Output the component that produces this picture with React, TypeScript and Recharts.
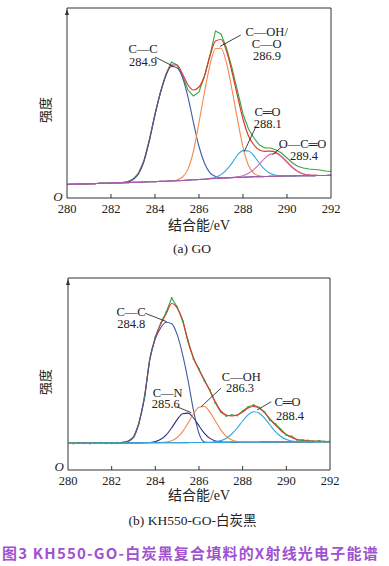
import { LineChart, Line, XAxis, YAxis, ReferenceLine } from 'recharts'

// binding energy grid (eV)
const energy = [
  280, 280.25, 280.5, 280.75, 281, 281.25, 281.5, 281.75, 282, 282.25, 282.5, 282.75,
  283, 283.25, 283.5, 283.75, 284, 284.25, 284.5, 284.75, 285, 285.25, 285.5, 285.75,
  286, 286.25, 286.5, 286.75, 287, 287.25, 287.5, 287.75, 288, 288.25, 288.5, 288.75,
  289, 289.25, 289.5, 289.75, 290, 290.25, 290.5, 290.75, 291, 291.25, 291.5, 291.75, 292,
]
const xTicks = [280, 282, 284, 286, 288, 290, 292]

// (a) GO
const goBackground = [
  13.5, 13.7, 13.9, 14.0, 14.2, 14.4, 14.6, 14.7, 14.9, 15.1, 15.3, 15.4,
  15.6, 15.8, 16.0, 16.2, 16.4, 16.6, 16.8, 17.0, 17.2, 17.5, 17.9, 18.2,
  18.5, 18.8, 19.2, 19.5, 19.8, 20.1, 20.3, 20.6, 20.8, 21.0, 21.2, 21.3,
  21.5, 21.6, 21.8, 21.9, 22.0, 22.1, 22.2, 22.2, 22.3, 22.4, 22.5, 22.5, 22.6,
]
const goRaw = [
  13.6, 13.6, 14.0, 13.9, 14.3, 14.3, 14.7, 14.6, 15.0, 15.0, 15.4, 16.2,
  19.0, 25.0, 37.5, 59, 84, 106, 124, 136, 133, 122, 108, 102,
  106, 122, 143, 167, 164, 150, 130, 107, 84, 69, 60, 53,
  50, 50, 48, 45, 40, 35, 31.5, 30, 29, 28.5, 28, 27, 26.5,
]
const goFit = [
  13.5, 13.7, 13.9, 14.0, 14.2, 14.4, 14.6, 14.7, 14.9, 15.1, 15.3, 15.9,
  18.6, 24.3, 37.0, 58.2, 83.4, 105.6, 122.8, 133, 133, 124, 113, 108,
  111, 122, 142, 157, 158.5, 147, 126, 102, 79, 62, 53, 48,
  46.7, 46.9, 45.5, 41.6, 36, 30.5, 26.5, 24, 23, 22.6, 22.5, 22.5, 22.6,
]
// fitted peaks, height above the background
const goCC = [
  0, 0, 0, 0, 0, 0, 0, 0, 0, 0, 0, 0.5,
  3, 8.5, 21, 42, 67, 89, 106, 114.5, 113, 103, 83, 57,
  33, 16, 6, 2, 0.5, 0, 0, 0, 0, 0, 0, 0,
  0, 0, 0, 0, 0, 0, 0, 0, 0, 0, 0, 0, 0,
]
const goCOH = [
  0, 0, 0, 0, 0, 0, 0, 0, 0, 0, 0, 0,
  0, 0, 0, 0, 0, 0, 0, 0, 0.8, 3.5, 11, 29,
  57, 87, 114, 130, 130, 115, 88, 58, 30, 11.5, 3.5, 0.8,
  0, 0, 0, 0, 0, 0, 0, 0, 0, 0, 0, 0, 0,
]
const goCO = [
  0, 0, 0, 0, 0, 0, 0, 0, 0, 0, 0, 0,
  0, 0, 0, 0, 0, 0, 0, 0, 0, 0, 0, 0,
  0, 0, 0.4, 1.3, 3.6, 8.1, 14.6, 22.4, 26.6, 26, 20.9, 13.2,
  6.8, 3.0, 1.0, 0.3, 0, 0, 0, 0, 0, 0, 0, 0, 0,
]
const goOCO = [
  0, 0, 0, 0, 0, 0, 0, 0, 0, 0, 0, 0,
  0, 0, 0, 0, 0, 0, 0, 0, 0, 0, 0, 0,
  0, 0, 0, 0, 0, 0, 0.2, 0.5, 1.5, 3.7, 7.5, 12.8,
  18.4, 22.3, 22.7, 19.4, 14, 8.4, 4.3, 1.8, 0.7, 0.2, 0, 0, 0,
]

// (b) KH550-GO-白炭黑
const khBackground = [
  26.7, 26.7, 26.8, 26.8, 26.8, 26.9, 26.9, 26.9, 27.0, 27.0, 27.0, 27.1,
  27.1, 27.1, 27.2, 27.2, 27.2, 27.3, 27.3, 27.3, 27.4, 27.4, 27.4, 27.5,
  27.5, 27.5, 27.5, 27.6, 27.6, 27.6, 27.7, 27.7, 27.7, 27.8, 27.8, 27.8,
  27.9, 27.9, 27.9, 28.0, 28.0, 28.0, 28.1, 28.1, 28.1, 28.2, 28.2, 28.2, 28.3,
]
const khRaw = [
  26.9, 26.6, 27.1, 26.7, 26.6, 27.0, 27.2, 26.8, 26.8, 27.2, 27.6, 28.3,
  32.8, 46.5, 72.5, 111, 133, 147, 158, 172, 163, 149, 129.5, 111,
  101, 89, 80, 67, 58, 54, 55, 54.5, 59, 63, 65, 62.5,
  58, 50, 46, 40.5, 35, 33.5, 30, 30, 29.5, 28.6, 29.1, 28.5, 28.6,
]
const khFit = [
  26.7, 26.7, 26.8, 26.8, 26.8, 26.9, 26.9, 26.9, 27.0, 27.0, 27.4, 28.5,
  32.5, 47, 72, 111.5, 132.5, 146, 156.5, 166.5, 162, 150, 128, 112,
  100, 90, 79, 68, 59, 55, 54, 55, 58, 62, 63.5, 62,
  57.5, 51, 45, 39.5, 35.5, 32.5, 30.5, 29.5, 29, 28.8, 28.6, 28.5, 28.3,
]
const khCC = [
  0, 0, 0, 0, 0, 0, 0, 0, 0, 0, 0.5, 2,
  6, 20, 45, 84, 104, 115, 120.5, 119, 108, 88, 62, 32,
  9, 0.5, 0, 0, 0, 0, 0, 0, 0, 0, 0, 0,
  0, 0, 0, 0, 0, 0, 0, 0, 0, 0, 0, 0, 0,
]
const khCN = [
  0, 0, 0, 0, 0, 0, 0, 0, 0, 0, 0, 0,
  0, 0, 0, 0.3, 1.2, 3.4, 7.9, 14.9, 23, 28.9, 29.5, 24.5,
  16.6, 9.1, 4.1, 1.5, 0.4, 0, 0, 0, 0, 0, 0, 0,
  0, 0, 0, 0, 0, 0, 0, 0, 0, 0, 0, 0, 0,
]
const khCOH = [
  0, 0, 0, 0, 0, 0, 0, 0, 0, 0, 0, 0,
  0, 0, 0, 0, 0, 0.2, 0.6, 2, 5.1, 11, 19.5, 28.8,
  35.3, 36, 30.4, 21.4, 12.5, 6, 2.4, 0.8, 0.2, 0, 0, 0,
  0, 0, 0, 0, 0, 0, 0, 0, 0, 0, 0, 0, 0,
]
const khCO = [
  0, 0, 0, 0, 0, 0, 0, 0, 0, 0, 0, 0,
  0, 0, 0, 0, 0, 0, 0, 0, 0, 0, 0, 0,
  0, 0, 0.2, 0.7, 1.8, 4.1, 8.3, 14.3, 21.3, 27.4, 30.4, 29.1,
  24, 17.1, 10.5, 5.5, 2.5, 1.0, 0.3, 0, 0, 0, 0, 0, 0,
]

const GREEN = '#34a547'
const RED = '#dc3a2c'
const FRAME = '#333'
const serif = "'Liberation Serif', 'Noto Sans CJK SC', serif"

type Peak = { key: string; color: string; values: number[] }
type Pointer = [number, number, number, number]

function XpsPanel({ background, raw, fit, peaks, baseColor, pointers, box, rawDots }: {
  background: number[]
  raw: number[]
  fit: number[]
  peaks: Peak[]
  baseColor: string
  pointers: Pointer[]
  box: { left: number; top: number; width: number; height: number }
  rawDots?: boolean
}) {
  const W = 389
  const H = 240
  const axisH = 30
  const axisY = box.top + box.height
  const rows = energy.map((e, i) => {
    const row: Record<string, number> = { e, raw: raw[i], fit: fit[i], bg: background[i] }
    peaks.forEach(p => { row[p.key] = background[i] + p.values[i] })
    return row
  })

  const renderTick = (props: any) => {
    const { x, payload } = props
    const inner = payload.value > 280 && payload.value < 292
    return (
      <g>
        {inner && <line x1={x} x2={x} y1={axisY} y2={axisY - 4} stroke={FRAME} strokeWidth={1} />}
        <text x={x} y={axisY + 15} textAnchor="middle" fontFamily={serif} fontSize={12.5} fill="#222">
          {payload.value}
        </text>
      </g>
    )
  }

  return (
    <LineChart
      width={W}
      height={H}
      data={rows}
      margin={{ top: box.top, right: W - box.left - box.width, bottom: H - axisY - axisH, left: box.left }}
    >
      <XAxis dataKey="e" type="number" domain={[280, 292]} ticks={xTicks} tick={renderTick}
        tickLine={false} axisLine={{ stroke: FRAME, strokeWidth: 1 }} height={axisH} allowDataOverflow />
      <YAxis type="number" domain={[0, box.height]} hide allowDataOverflow />
      <Line dataKey="raw" type="linear" stroke={GREEN} strokeWidth={1.1} isAnimationActive={false}
        dot={rawDots ? { r: 1, fill: GREEN, stroke: 'none' } : false} />
      <Line dataKey="fit" type="monotone" stroke={RED} strokeWidth={1.2} dot={false} isAnimationActive={false} />
      {peaks.map(p => (
        <Line key={p.key} dataKey={p.key} type="monotone" stroke={p.color} strokeWidth={1.1}
          dot={false} isAnimationActive={false} />
      ))}
      <Line dataKey="bg" type="monotone" stroke={baseColor} strokeWidth={1.1} dot={false} isAnimationActive={false} />
      {/* frame */}
      <ReferenceLine x={280} stroke={FRAME} strokeWidth={1} ifOverflow="visible" />
      <ReferenceLine x={292} stroke={FRAME} strokeWidth={1} ifOverflow="visible" />
      <ReferenceLine y={box.height} stroke={FRAME} strokeWidth={1} ifOverflow="visible" />
      {pointers.map((s, i) => (
        <ReferenceLine key={i} segment={[{ x: s[0], y: s[1] }, { x: s[2], y: s[3] }]}
          stroke="#111" strokeWidth={0.8} ifOverflow="visible" />
      ))}
    </LineChart>
  )
}

function Txt({ x, y, children, size = 12.5, anchor = 'middle', italic = false }: any) {
  return (
    <text x={x} y={y} textAnchor={anchor} fontFamily={serif} fontSize={size}
      fontStyle={italic ? 'italic' : 'normal'} fill="#222">
      {children}
    </text>
  )
}

export default function App() {
  return (
    <div style={{ position: 'absolute', left: 0, top: 0, width: 389, height: 566, background: '#fff' }}>
      <div style={{ position: 'absolute', left: 0, top: 0 }}>
        <XpsPanel
          background={goBackground}
          raw={goRaw}
          fit={goFit}
          peaks={[
            { key: 'cc', color: '#3e5ba6', values: goCC },
            { key: 'coh', color: '#f0894e', values: goCOH },
            { key: 'co', color: '#2fa6de', values: goCO },
            { key: 'oco', color: '#dc62b4', values: goOCO },
          ]}
          baseColor="#a45aa8"
          pointers={[
            [284.0, 141, 284.85, 131.5],
            [287.9, 163, 286.95, 151.5],
            [288.59, 71.6, 288.06, 46.6],
            [289.79, 51.6, 289.34, 43.3],
          ]}
          box={{ left: 67, top: 8, width: 264, height: 190 }}
        />
      </div>
      <div style={{ position: 'absolute', left: 0, top: 270 }}>
        <XpsPanel
          background={khBackground}
          raw={khRaw}
          fit={khFit}
          peaks={[
            { key: 'cc', color: '#3e5ba6', values: khCC },
            { key: 'cn', color: '#2b2c7c', values: khCN },
            { key: 'coh', color: '#f0894e', values: khCOH },
            { key: 'co', color: '#2fa6de', values: khCO },
          ]}
          baseColor="#2fa6de"
          pointers={[
            [283.54, 156.7, 284.52, 148.3],
            [284.98, 63.3, 285.65, 57.3],
            [287.0, 81.7, 286.1, 63.3],
            [289.31, 68.3, 288.66, 60],
          ]}
          box={{ left: 68, top: 8, width: 262, height: 192 }}
          rawDots
        />
      </div>
      <svg width={389} height={566} style={{ position: 'absolute', left: 0, top: 0, pointerEvents: 'none' }}>
        {/* axis arrows */}
        <polygon points="67,9 65,15 69,15" fill={FRAME} />
        <polygon points="68,279 66,285 70,285" fill={FRAME} />

        {/* (a) labels */}
        <Txt x={143} y={53}>C—C</Txt>
        <Txt x={143} y={65.5}>284.9</Txt>
        <Txt x={266.7} y={36}>C—OH/</Txt>
        <Txt x={266.7} y={48}>C—O</Txt>
        <Txt x={267} y={59.7}>286.9</Txt>
        <Txt x={267.5} y={116.3}>C═O</Txt>
        <Txt x={267.8} y={128}>288.1</Txt>
        <Txt x={302.5} y={148}>O—C═O</Txt>
        <Txt x={304} y={159.7}>289.4</Txt>
        <Txt x={58} y={200.5} size={13} italic>O</Txt>
        <text x={0} y={0} transform="translate(49.5,110) rotate(-90)" textAnchor="middle"
          fontFamily={serif} fontSize={13} fill="#222">强度</text>
        <Txt x={199} y={230} size={14}>结合能/eV</Txt>
        <Txt x={192} y={253} size={13.5}>(a) GO</Txt>

        {/* (b) labels */}
        <Txt x={131} y={316.3}>C—C</Txt>
        <Txt x={131.2} y={328}>284.8</Txt>
        <Txt x={167.7} y={397}>C—N</Txt>
        <Txt x={165.8} y={408}>285.6</Txt>
        <Txt x={241.3} y={380.7}>C—OH</Txt>
        <Txt x={240} y={392}>286.3</Txt>
        <Txt x={287.5} y={406.3}>C═O</Txt>
        <Txt x={290} y={419.7}>288.4</Txt>
        <Txt x={59.3} y={471} size={13} italic>O</Txt>
        <text x={0} y={0} transform="translate(49.5,382) rotate(-90)" textAnchor="middle"
          fontFamily={serif} fontSize={13} fill="#222">强度</text>
        <Txt x={199} y={500} size={14}>结合能/eV</Txt>
        <Txt x={192.5} y={525} size={13.5}>(b) KH550-GO-白炭黑</Txt>

        <text x={2} y={558.5} fontFamily="'Noto Sans CJK SC', sans-serif" fontWeight="bold"
          fontSize={15} letterSpacing={1.2} fill="#a052d0">
          图3 KH550-GO-白炭黑复合填料的X射线光电子能谱
        </text>
      </svg>
    </div>
  )
}
